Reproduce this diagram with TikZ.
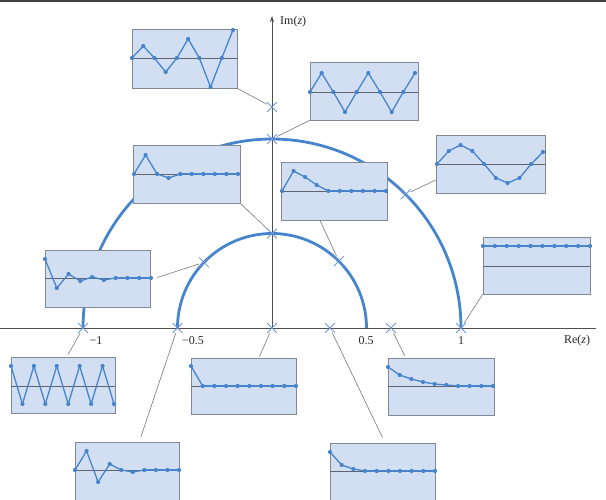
\documentclass[tikz,border=0pt]{standalone}
\usepackage{fontspec}
\setmainfont{Liberation Serif}
\usetikzlibrary{shapes.misc,arrows.meta,calc}
\definecolor{sigblue}{RGB}{70,132,205}
\definecolor{boxfill}{RGB}{210,223,242}
\definecolor{boxdraw}{RGB}{130,136,148}
\definecolor{basegray}{RGB}{95,100,110}
\definecolor{xblue}{RGB}{110,150,210}
\definecolor{congray}{RGB}{120,120,120}
\definecolor{axgray}{RGB}{80,80,80}
\newcommand{\SigPanel}[9]{%
  \node[sbox, minimum width={(#4-#2)*1pt}, minimum height={(#5-#3)*1pt}] (#1) at ({(#2+#4)/2},{(#3+#5)/2}) {};
  \draw[basel] (#2,#6) -- (#4,#6);
  \pgfmathsetmacro{\PanelDx}{(#8-#7)/9}
  \foreach \v [count=\i from 0, remember=\v as \pv (initially 0)] in {#9} {
    \ifnum\i>0 \draw[sigline] ({#7+(\i-1)*\PanelDx},{#6-(\pv)}) -- ({#7+\i*\PanelDx},{#6-(\v)});\fi
  }
  \foreach \v [count=\i from 0] in {#9} {
    \fill[sigblue] ({#7+\i*\PanelDx},{#6-(\v)}) circle (2.1pt);
  }%
}
\begin{document}
\begin{tikzpicture}[x=1pt,y=-1pt,
  sbox/.style={draw=boxdraw, fill=boxfill, line width=0.8pt, inner sep=0pt, rectangle},
  basel/.style={draw=basegray, line width=0.8pt},
  sigline/.style={draw=sigblue, line width=1.3pt, line cap=round, line join=round},
  arcline/.style={draw=sigblue, line width=2.8pt},
  xmark/.style={cross out, draw=xblue, minimum size=9pt, inner sep=0pt, line width=0.8pt},
  conn/.style={draw=congray, line width=0.6pt},
  axisline/.style={draw=axgray, line width=0.8pt},
  lbl/.style={font=\fontsize{12}{14}\selectfont, inner sep=0pt, text=black!85}]
\useasboundingbox (0,0) rectangle (606,500);
\clip (0,0) rectangle (606,500);
\fill[black!75] (0,0) rectangle (606,2);
% axes
\draw[axisline] (0,328) -- (596,328);
\draw[axisline,-{Stealth[length=6pt,width=4pt]}] (272,328) -- (272,16);
% circles
\draw[arcline] plot[domain=180:0, samples=120] ({272+189*cos(\x)},{328-189*sin(\x)});
\draw[arcline] plot[domain=180:0, samples=90] ({272+94.5*cos(\x)},{328-94.5*sin(\x)});
% pole marks
\node[xmark] (p1) at (83,328) {};
\node[xmark] (p2) at (177.5,328) {};
\node[xmark] (p3) at (272,328) {};
\node[xmark] (p4) at (330,328) {};
\node[xmark] (p5) at (391,328) {};
\node[xmark] (p6) at (461,328) {};
\node[xmark] (p7) at (272,233.5) {};
\node[xmark] (p8) at (272,139) {};
\node[xmark] (p9) at (272,107) {};
\node[xmark] (p10) at ({272+94.5*cos(136)},{328-94.5*sin(136)}) {};
\node[xmark] (p11) at ({272+94.5*cos(45)},{328-94.5*sin(45)}) {};
\node[xmark] (p12) at ({272+189*cos(45)},{328-189*sin(45)}) {};
% panels
\SigPanel{b1}{132}{29}{237}{88}{58}{132}{233}{0,12,0,-14,0,19,0,-29,0,28}
\SigPanel{b2}{310}{62}{418}{120}{92}{310}{415}{0,19,0,-20,0,19,0,-20,0,19}
\SigPanel{b3}{133}{145}{240}{203}{174}{134}{238}{0,19,0,-4,0,0,0,0,0,0}
\SigPanel{b4}{281}{162}{387}{220}{191}{282}{386}{0,20,14,6,0,0,0,0,0,0}
\SigPanel{b5}{436}{135}{545}{193}{164}{437}{543}{0,13,19,13,0,-14,-19,-14,0,12}
\SigPanel{b6}{45}{250}{150}{307}{278}{45}{151}{19,-10,4,-3,1,-2,0,0,0,0}
\SigPanel{b7}{483}{237}{590}{294}{266}{483}{590}{20,20,20,20,20,20,20,20,20,20}
\SigPanel{b8}{11}{357}{115}{413}{386}{11}{114}{20,-18,20,-18,20,-18,20,-18,20,-18}
\SigPanel{b9}{191}{358}{296}{414}{386}{191}{296}{20,0,0,0,0,0,0,0,0,0}
\SigPanel{b10}{388}{358}{494}{415}{386}{388}{493}{19,11,7,4,2,1,0,0,0,0}
\SigPanel{b11}{75}{442}{179}{500}{470}{75}{179}{0,19,-12,6,0,-2,0,0,0,0}
\SigPanel{b12}{330}{443}{435}{501}{471}{330}{435}{19,6,2,0,0,0,0,0,0,0}
% connectors
\draw[conn] (b1.south east) -- (p9);
\draw[conn] (b2.south west) -- (p8);
\draw[conn] (b3.south east) -- (p7);
\draw[conn] ([xshift=-14pt]b4.south) -- (p11);
\draw[conn] ([yshift=-16pt]b5.west) -- (p12);
\draw[conn] ([xshift=7pt,yshift=1pt]b6.east) -- (p10);
\draw[conn] (b7.south west) -- (p6);
\draw[conn] (p1) -- ([xshift=5pt,yshift=2pt]b8.north);
\draw[conn] (p3) -- ([xshift=16pt,yshift=1pt]b9.north);
\draw[conn] (p5) -- ([xshift=17pt,yshift=2pt]b10.north west);
\draw[conn] (p2) -- ([xshift=14pt,yshift=5pt]b11.north);
\draw[conn] (p4) -- ([yshift=5pt]b12.north);
% labels
\node[lbl, anchor=west] (lim) at (280,22) {Im(\textit{z})};
\node[lbl] (lre) at (577,341) {Re(\textit{z})};
\node[lbl] (lm1) at (96,341) {−1};
\node[lbl] (lm05) at (193,341) {−0.5};
\node[lbl] (l05) at (366,341) {0.5};
\node[lbl] (l1) at (461,341) {1};
\end{tikzpicture}
\end{document}
